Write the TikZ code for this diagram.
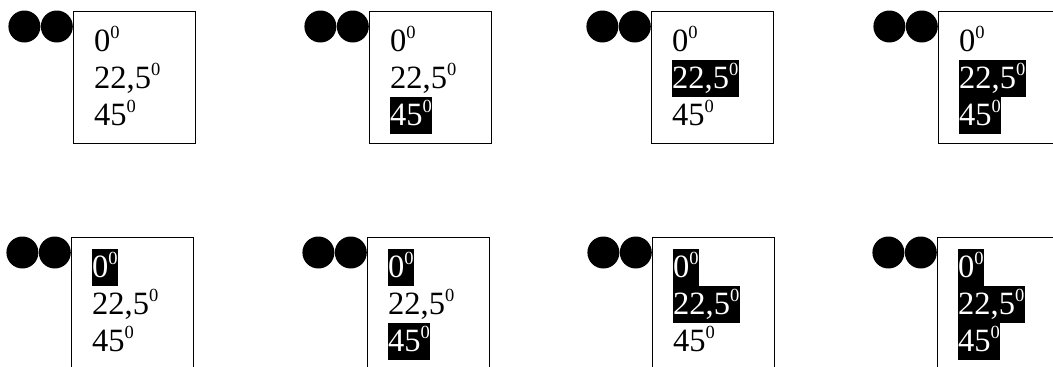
\documentclass[tikz,border=0pt]{standalone}
\usepackage{fontspec}
\setmainfont{Liberation Serif}
\usetikzlibrary{positioning}

\newcommand{\dg}[1]{#1\raisebox{12.5pt}{\fontsize{18.5}{18.5}\selectfont 0}}

\begin{document}
\begin{tikzpicture}[x=1pt, y=-1pt,
  frame/.style={draw, line width=1.2pt, minimum width=122pt, minimum height=132pt, anchor=north west, inner sep=0pt},
  dot/.style={circle, fill=black, minimum size=32pt, inner sep=0pt},
  ang/.style={anchor=north west, inner xsep=0.5pt, inner ysep=0pt, text height=28pt, text depth=8.5pt, font=\fontsize{32.5}{36.5}\selectfont},
  lit/.style={fill=black, text=white},
  unlit/.style={text=black}]
\useasboundingbox (0,0) rectangle (1053,367);
\clip (0,0) rectangle (1053,367);
\foreach \k/\x/\y/\a/\b/\c in {1/73/11/unlit/unlit/unlit, 2/369/11/unlit/unlit/lit,
    3/651/11/unlit/lit/unlit, 4/938/11/unlit/lit/lit, 5/71/237/lit/unlit/unlit,
    6/367/237/lit/unlit/lit, 7/652/237/lit/lit/unlit, 8/937/237/lit/lit/lit}{
  \node[frame] (box\k) at (\x,\y) {};
  \node[dot, left=0pt of box\k.north west, yshift=-15.5pt] (dotr\k) {};
  \node[dot, left=0pt of dotr\k] (dotl\k) {};
  \node[ang, \a, below right=12pt and 20.5pt of box\k.north west] (deg0\k) {\dg{0}};
  \node[ang, \b, below=0pt of deg0\k.south west, anchor=north west] (deg1\k) {\dg{22,5}};
  \node[ang, \c, below=0pt of deg1\k.south west, anchor=north west] (deg2\k) {\dg{45}};
}
\end{tikzpicture}
\end{document}
